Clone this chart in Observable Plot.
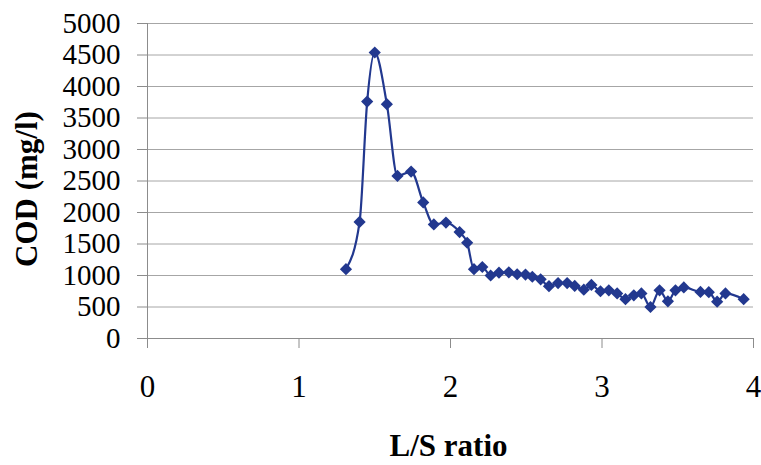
<!DOCTYPE html>
<html>
<head>
<meta charset="utf-8">
<script src="https://cdn.jsdelivr.net/npm/d3@7"></script>
<script src="https://cdn.jsdelivr.net/npm/@observablehq/plot@0.6"></script>
<style>
  html, body { margin: 0; padding: 0; background: #fff; }
  #chart { width: 761px; height: 465px; }
  #chart svg, #chart svg text { font-family: "Liberation Serif", "Times New Roman", serif !important; font-variant-numeric: normal !important; }
  #chart g[aria-label="x-axis tick"], #chart g[aria-label="y-axis tick"] { color: #8c8c8c; }
</style>
</head>
<body>
<div id="chart"></div>
<script>
// L/S ratio (x) and COD in mg/l (y)
const lsRatio = [1.31, 1.40, 1.45, 1.50, 1.58, 1.65, 1.74, 1.82, 1.89, 1.97, 2.06, 2.11, 2.155, 2.21, 2.265, 2.32, 2.385, 2.44, 2.495, 2.54, 2.595, 2.65, 2.71, 2.77, 2.82, 2.88, 2.93, 2.99, 3.045, 3.10, 3.155, 3.21, 3.26, 3.32, 3.38, 3.435, 3.485, 3.54, 3.65, 3.705, 3.76, 3.815, 3.935];
const cod     = [1100, 1850, 3760, 4540, 3720, 2580, 2650, 2160, 1810, 1840, 1690, 1520, 1100, 1135, 1000, 1045, 1050, 1020, 1015, 980, 940, 830, 880, 880, 835, 775, 850, 750, 765, 715, 625, 685, 715, 500, 765, 590, 765, 810, 740, 735, 585, 715, 625];
const xTicks = [0, 1, 2, 3, 4];
const yTicks = [0, 500, 1000, 1500, 2000, 2500, 3000, 3500, 4000, 4500, 5000];
const xTitle = "L/S ratio";
const yTitle = "COD (mg/l)";

const data = lsRatio.map((x, i) => ({x, y: cod[i]}));
const seriesColor = "#22388f";
const serif = "Liberation Serif";

const chart = Plot.plot({
  width: 761,
  height: 465,
  marginLeft: 147,
  marginRight: 8,
  marginTop: 23,
  marginBottom: 127,
  style: {background: "#fff", color: "#000"},
  x: {domain: [0, 4]},
  y: {domain: [0, 5000]},
  marks: [
    Plot.gridY(yTicks, {stroke: "#a6a6a6", strokeOpacity: 1, strokeWidth: 1}),
    Plot.ruleX([0], {stroke: "#8c8c8c", strokeWidth: 1}),
    Plot.ruleY([0], {stroke: "#8c8c8c", strokeWidth: 1}),
    Plot.axisY({ticks: yTicks, tickSize: 10, tickPadding: 17, fontSize: 29, fontFamily: serif, label: null, tickFormat: d => String(d)}),
    Plot.axisX({ticks: xTicks, tickSize: 10, tickPadding: 26, fontSize: 31, fontFamily: serif, label: null, tickFormat: d => String(d)}),
    Plot.line(data, {x: "x", y: "y", stroke: seriesColor, strokeWidth: 2.2, curve: "monotone-x"}),
    Plot.dot(data, {x: "x", y: "y", symbol: "diamond2", r: 5.5, fill: seriesColor, stroke: "none"}),
    Plot.text([xTitle], {frameAnchor: "bottom", lineAnchor: "bottom", dy: 117, dx: -2, fontSize: 31, fontFamily: serif, fontWeight: "bold", fill: "#000"}),
    Plot.text([yTitle], {frameAnchor: "left", textAnchor: "middle", lineAnchor: "middle", rotate: -90, dx: -120, dy: 8, fontSize: 31, fontFamily: serif, fontWeight: "bold", fill: "#000"})
  ]
});
document.getElementById("chart").appendChild(chart);
</script>
</body>
</html>
